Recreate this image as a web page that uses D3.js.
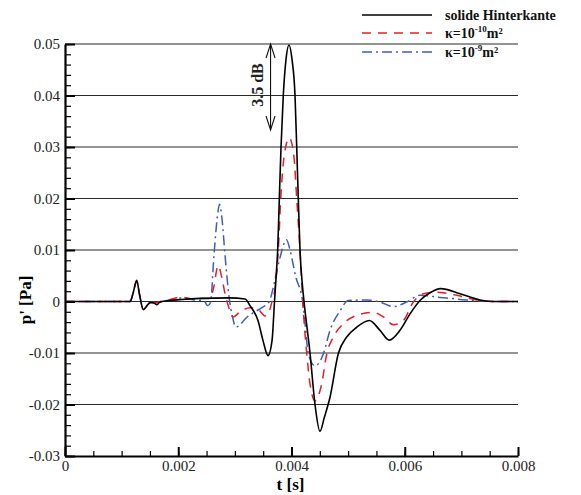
<!DOCTYPE html>
<html>
<head>
<meta charset="utf-8">
<script src="https://cdn.jsdelivr.net/npm/d3@7"></script>
<style>
  body { margin: 0; background: #fff; }
  svg { display: block; }
</style>
</head>
<body>
<div id="chart"></div>
<script>
// series (t in s, p' in Pa)
var solidT = [0, 0.00115, 0.00120, 0.001266, 0.001316, 0.001383, 0.001448, 0.001501, 0.001572, 0.001625, 0.001678,
  0.001854, 0.002061, 0.002384, 0.00290, 0.00318, 0.003267, 0.003408, 0.003497, 0.003585, 0.003656,
  0.003700, 0.003735, 0.003756, 0.003785, 0.003815, 0.003855, 0.003903, 0.003956, 0.004009, 0.004062,
  0.004092, 0.004120, 0.004150, 0.004194, 0.004221, 0.004327, 0.004415, 0.004503, 0.00458, 0.00468,
  0.004827, 0.004975, 0.005151, 0.005374, 0.005563, 0.005727, 0.005916, 0.006093, 0.006269, 0.006446,
  0.006635, 0.006976, 0.007329, 0.007559, 0.008];
var solidP = [0, 0, 0.0015, 0.0041, 0.0014, -0.0016, -0.0008, -0.0002, -0.0003, -0.0006, -0.0001,
  0.0002, 0.0004, 0.0006, 0.0007, 0.0005, -0.0008, -0.0037, -0.0076, -0.0105, -0.0076,
  0, 0.006, 0.010, 0.020, 0.030, 0.040, 0.047, 0.0498, 0.047, 0.040,
  0.030, 0.020, 0.010, 0.003, 0, -0.010, -0.020, -0.0252, -0.0225, -0.0186,
  -0.0101, -0.0069, -0.0050, -0.0037, -0.0056, -0.0075, -0.0056, -0.0024, 0.0002, 0.0017,
  0.0025, 0.0015, 0.0003, 0, 0];

var k10T = [0, 0.00115, 0.00120, 0.001266, 0.001316, 0.001383, 0.001448, 0.001501, 0.00162, 0.001854, 0.002061,
  0.00230, 0.00245, 0.002561, 0.002631, 0.002702, 0.002773, 0.002826, 0.002914, 0.002967, 0.003091,
  0.003267, 0.003408, 0.003532, 0.003603, 0.003656, 0.003708, 0.003767, 0.003810, 0.003867, 0.003961,
  0.004044, 0.004092, 0.004150, 0.004198, 0.004268, 0.004327, 0.004415, 0.004533, 0.004622, 0.004739,
  0.004916, 0.005151, 0.005445, 0.005622, 0.005798, 0.005975, 0.006151, 0.006328, 0.006563, 0.006917,
  0.007270, 0.007559, 0.008];
var k10P = [0, 0, 0.0015, 0.0040, 0.0013, -0.0015, -0.0009, -0.0004, -0.0002, 0.0004, 0.0008,
  0.0005, 0.0006, 0.0006, 0.0030, 0.0070, 0.0045, 0.0015, -0.0018, -0.0030, -0.0020,
  -0.0012, -0.0015, -0.0028, -0.0020, 0, 0.0025, 0.010, 0.020, 0.028, 0.0318,
  0.028, 0.020, 0.010, 0, -0.010, -0.016, -0.0193, -0.0160, -0.0102, -0.0069,
  -0.0043, -0.0027, -0.0021, -0.0030, -0.0045, -0.0037, -0.0001, 0.0015, 0.0018, 0.0012,
  0.0003, 0, 0];

var k9T = [0, 0.00115, 0.00120, 0.001266, 0.001316, 0.001383, 0.001448, 0.001501, 0.00162, 0.001854, 0.002061,
  0.00230, 0.00245, 0.002520, 0.002570, 0.002631, 0.002702, 0.002729, 0.002773, 0.002826, 0.002896,
  0.002958, 0.003020, 0.003091, 0.003197, 0.003320, 0.003479, 0.003608, 0.003673, 0.003785, 0.003912,
  0.003974, 0.004070, 0.004198, 0.004300, 0.004415, 0.004562, 0.004680, 0.004857, 0.005004, 0.005327,
  0.005563, 0.005798, 0.006034, 0.006269, 0.006622, 0.007094, 0.007624, 0.008];
var k9P = [0, 0, 0.0015, 0.0039, 0.0013, -0.0015, -0.0008, -0.0003, -0.0001, 0.0003, 0.0007,
  0.0003, 0.0002, -0.0008, -0.0002, 0.0090, 0.0175, 0.0189, 0.0160, 0.0090, 0.0010,
  -0.0030, -0.0050, -0.0045, -0.0032, -0.0022, -0.0012, 0, 0.0025, 0.0080, 0.0120,
  0.0100, 0.0050, 0, -0.0102, -0.0125, -0.0102, -0.0056, -0.0018, 0.0002, 0.0003,
  -0.0001, -0.0010, -0.0001, 0.0012, 0.0008, 0.0003, 0, 0];

var seriesNames = ["solide Hinterkante", "κ=10", "κ=10"];
var seriesExp = ["", "-10", "-9"];
var seriesColors = ["#000000", "#e3202b", "#3f5fb5"];
var seriesDash = [null, "9,7", "10,4,2,4"];

var xTicks = [0, 0.002, 0.004, 0.006, 0.008];
var xTickLabels = ["0", "0.002", "0.004", "0.006", "0.008"];
var yTicks = [-0.03, -0.02, -0.01, 0, 0.01, 0.02, 0.03, 0.04, 0.05];
var yTickLabels = ["-0.03", "-0.02", "-0.01", "0", "0.01", "0.02", "0.03", "0.04", "0.05"];

// 3.5 dB annotation: from solid peak down to 0.05 / 10^(3.5/20)
var dbT = 0.00363;
var dbTop = 0.05;
var dbBottom = 0.0333;

var width = 581, height = 495;
var margin = {top: 44, right: 63, bottom: 39, left: 65};
var innerW = width - margin.left - margin.right;
var innerH = height - margin.top - margin.bottom;
var serif = "'Liberation Serif', 'Times New Roman', serif";

var svg = d3.select("#chart")
    .append("svg")
    .attr("width", width)
    .attr("height", height)
    .attr("font-family", serif);

var g = svg.append("g")
    .attr("transform", "translate(" + margin.left + "," + margin.top + ")");

var x = d3.scaleLinear().domain([0, 0.008]).range([0, innerW]);
var y = d3.scaleLinear().domain([-0.03, 0.05]).range([innerH, 0]);

// horizontal grid
g.selectAll(".grid")
    .data(yTicks.filter(function(d) { return d > -0.03; }))
    .enter()
    .append("line")
    .attr("x1", 0)
    .attr("x2", innerW)
    .attr("y1", function(d) { return y(d); })
    .attr("y2", function(d) { return y(d); })
    .attr("stroke", "#2a2a2a")
    .attr("stroke-width", 1.1);

// curves
var line = d3.line()
    .x(function(d) { return x(d[0]); })
    .y(function(d) { return y(d[1]); })
    .curve(d3.curveMonotoneX);

var allT = [solidT, k10T, k9T];
var allP = [solidP, k10P, k9P];

// draw black last so it sits on top like in the original
[2, 1, 0].forEach(function(i) {
    var pts = allT[i].map(function(t, j) { return [t, allP[i][j]]; });
    g.append("path")
        .attr("d", line(pts))
        .attr("fill", "none")
        .attr("stroke", seriesColors[i])
        .attr("stroke-width", i === 0 ? 1.6 : 1.5)
        .attr("stroke-dasharray", seriesDash[i]);
});

// y axis, ticks pointing inward
var yMinor = d3.range(-0.03, 0.0501, 0.002);
g.append("g")
    .call(d3.axisLeft(y).tickValues(yMinor).tickSize(-6).tickFormat(""))
    .call(function(a) { a.select(".domain").remove(); a.selectAll("line").attr("stroke-width", 1.2); });
g.append("g")
    .call(d3.axisLeft(y).tickValues(yTicks).tickSize(-10).tickSizeOuter(0).tickPadding(5)
        .tickFormat(function(d, i) { return yTickLabels[i]; }))
    .call(function(a) {
        a.attr("font-family", serif).attr("font-size", 15);
        a.select(".domain").attr("stroke-width", 2.2);
        a.selectAll("line").attr("stroke-width", 2);
        a.selectAll("text").attr("fill", "#222");
    });

// x axis, ticks pointing inward
var xMinor = d3.range(0, 0.00801, 0.0005);
g.append("g")
    .attr("transform", "translate(0," + innerH + ")")
    .call(d3.axisBottom(x).tickValues(xMinor).tickSize(-5).tickFormat(""))
    .call(function(a) { a.select(".domain").remove(); a.selectAll("line").attr("stroke-width", 1.2); });
g.append("g")
    .attr("transform", "translate(0," + innerH + ")")
    .call(d3.axisBottom(x).tickValues(xTicks).tickSize(-9).tickSizeOuter(0).tickPadding(4)
        .tickFormat(function(d, i) { return xTickLabels[i]; }))
    .call(function(a) {
        a.attr("font-family", serif).attr("font-size", 15);
        a.select(".domain").attr("stroke-width", 2.2);
        a.selectAll("line").attr("stroke-width", 2);
        a.selectAll("text").attr("fill", "#222");
    });

// axis titles
svg.append("text")
    .attr("x", margin.left + innerW / 2 - 1)
    .attr("y", 490)
    .attr("text-anchor", "middle")
    .attr("font-size", 17)
    .attr("font-weight", "bold")
    .text("t [s]");

svg.append("text")
    .attr("transform", "translate(31,300) rotate(-90)")
    .attr("text-anchor", "middle")
    .attr("font-size", 17)
    .attr("font-weight", "bold")
    .text("p' [Pa]");

// 3.5 dB double arrow
var ax = x(dbT), ay1 = y(dbTop), ay2 = y(dbBottom);
var arrow = g.append("g").attr("stroke", "#111").attr("fill", "none").attr("stroke-width", 1.1);
arrow.append("line").attr("x1", ax).attr("x2", ax).attr("y1", ay1).attr("y2", ay2);
arrow.append("path").attr("d", "M" + (ax - 4.5) + "," + (ay1 + 14) + "L" + ax + "," + ay1 + "L" + (ax + 4.5) + "," + (ay1 + 14));
arrow.append("path").attr("d", "M" + (ax - 4.5) + "," + (ay2 - 14) + "L" + ax + "," + ay2 + "L" + (ax + 4.5) + "," + (ay2 - 14));
g.append("text")
    .attr("transform", "translate(" + (ax - 8) + "," + ((ay1 + ay2) / 2 - 2) + ") rotate(-90)")
    .attr("text-anchor", "middle")
    .attr("font-size", 16)
    .attr("font-weight", "bold")
    .attr("fill", "#222")
    .text("3.5 dB");

// legend
var legend = svg.append("g");
var legY = [15, 33, 52];
seriesNames.forEach(function(name, i) {
    legend.append("line")
        .attr("x1", 362).attr("x2", 432)
        .attr("y1", legY[i]).attr("y2", legY[i])
        .attr("stroke", seriesColors[i])
        .attr("stroke-width", 1.6)
        .attr("stroke-dasharray", seriesDash[i]);
    var t = legend.append("text")
        .attr("x", 445)
        .attr("y", legY[i] + 5)
        .attr("font-size", 14)
        .attr("font-weight", "bold")
        .attr("fill", "#111")
        .text(name);
    if (seriesExp[i]) {
        t.append("tspan").attr("font-size", 9).attr("dy", -6).text(seriesExp[i]);
        t.append("tspan").attr("dy", 6).text("m²");
    }
});
</script>
</body>
</html>
